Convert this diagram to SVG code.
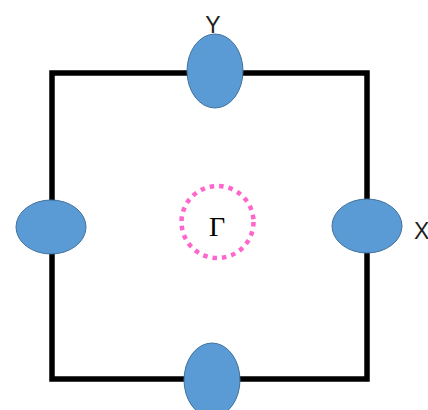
<svg xmlns="http://www.w3.org/2000/svg" width="428" height="410" viewBox="0 0 428 410">
<style>
.edge{fill:none;stroke:#000;stroke-width:5.5}
.port{fill:#5B9BD5;stroke:#41719C;stroke-width:1}
.lbl{font-family:"Liberation Sans",Arial,sans-serif;font-size:23px;fill:#1F1F1F}
</style>
<rect width="428" height="410" fill="#fff"/>
<g id="connectors">
<rect class="edge" x="52" y="73" width="315" height="306"/>
</g>
<g id="node-top"><ellipse class="port" cx="215" cy="71" rx="28" ry="37"/></g>
<g id="node-left"><ellipse class="port" cx="51" cy="227" rx="35" ry="27"/></g>
<g id="node-right"><ellipse class="port" cx="367" cy="226" rx="35" ry="27"/></g>
<g id="node-bottom"><ellipse class="port" cx="212" cy="380" rx="28" ry="37"/></g>
<g id="label-y"><text class="lbl" x="213" y="33" text-anchor="middle">Y</text></g>
<g id="label-x"><text class="lbl" x="414" y="239">X</text></g>
<g id="gamma">
<circle cx="217.5" cy="222" r="36" fill="none" stroke="#FF66CC" stroke-width="4.5" stroke-dasharray="4.5 5"/>
<text x="217" y="236" text-anchor="middle" font-family="Liberation Serif,'Times New Roman',serif" font-size="28" fill="#000">Γ</text>
</g>
</svg>
